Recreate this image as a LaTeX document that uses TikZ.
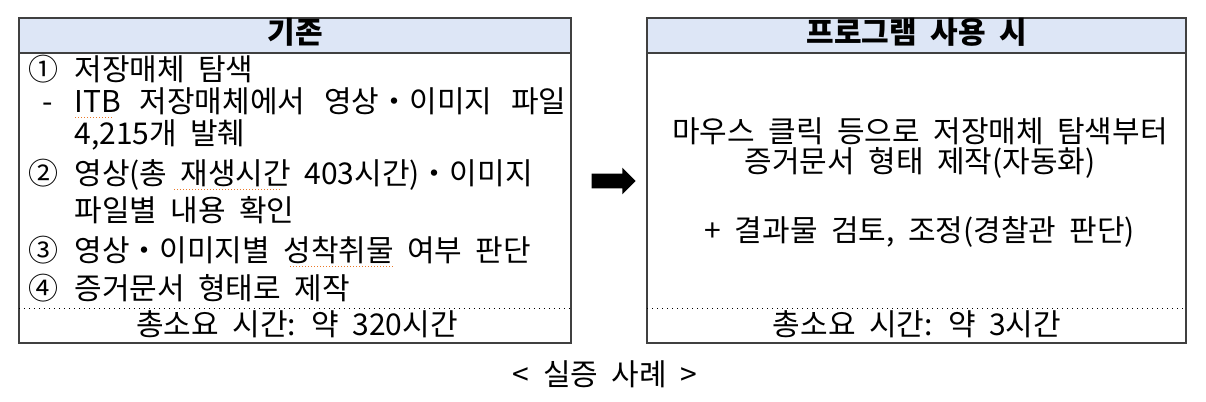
\documentclass[tikz,border=0pt]{standalone}
\usepackage{fontspec}
\setmainfont{Noto Sans CJK KR}[WordSpace=2]
\usetikzlibrary{shapes.arrows}

\definecolor{headblue}{RGB}{221,230,246}
\definecolor{framegray}{RGB}{64,64,64}
\definecolor{spellmark}{RGB}{235,120,40}

\begin{document}
\begin{tikzpicture}[x=0.5pt, y=-0.5pt,
    every node/.style={inner sep=0pt, text height=12pt, text depth=3pt,
        font=\fontsize{15}{17}\selectfont},
    frame/.style={draw=framegray, line width=0.6pt},
    headbar/.style={frame, fill=headblue},
    sepline/.style={draw=black, dotted, line width=0.5pt},
    squiggle/.style={draw=spellmark, densely dotted, line width=0.5pt},
    headtext/.style={font=\fontsize{15}{17}\selectfont\bfseries},
    itemtext/.style={anchor=west}]
    \useasboundingbox (0,0) rectangle (1206,402);

    % before
    \draw[headbar] (19,18) rectangle (571,53);
    \draw[frame] (19,53) rectangle (571,343);
    \draw[sepline] (19,308) -- (571,308);
    \node[headtext] (oldtitle) at (295,34) {기존};
    \node[itemtext] (n1) at (28,71) {①};
    \node[itemtext] (s1) at (74,71) {저장매체 탐색};
    \node[itemtext] (d1) at (42,103) {-};
    \node[itemtext] (s1a) at (74,103) {\makebox[246pt][s]{ITB 저장매체에서 영상・이미지 파일}};
    \node[itemtext] (s1b) at (74,135) {4,215개 발췌};
    \node[itemtext] (n2) at (28,175) {②};
    \node[itemtext] (s2) at (74,175) {영상(총 재생시간 403시간)・이미지};
    \node[itemtext] (s2b) at (74,212) {파일별 내용 확인};
    \node[itemtext] (n3) at (28,252) {③};
    \node[itemtext] (s3) at (74,252) {영상・이미지별 성착취물 여부 판단};
    \node[itemtext] (n4) at (28,290) {④};
    \node[itemtext] (s4) at (74,290) {증거문서 형태로 제작};
    \node (oldtime) at (297,326) {총소요 시간: 약 320시간};
    % spell-check marks
    \draw[squiggle] (75,117) -- (113,117);
    \draw[squiggle] (174,189) -- (280,189);
    \draw[squiggle] (290,266) -- (395,266);

    % arrow
    \node[single arrow, fill=black, minimum height=22pt, minimum width=13pt,
        single arrow head extend=3pt, inner sep=0pt, text height=7pt, text depth=0pt]
        (go) at (610,181) {};

    % after
    \draw[headbar] (647,18) rectangle (1186,53);
    \draw[frame] (647,53) rectangle (1186,343);
    \draw[sepline] (647,308) -- (1186,308);
    \node[headtext] (newtitle) at (917,34) {프로그램 사용 시};
    \node (auto1) at (920,133) {마우스 클릭 등으로 저장매체 탐색부터};
    \node (auto2) at (920,163) {증거문서 형태 제작(자동화)};
    \node (review) at (920,232) {+ 결과물 검토, 조정(경찰관 판단)};
    \node (newtime) at (917,326) {총소요 시간: 약 3시간};

    % caption
    \node (caption) at (605,376) {< 실증 사례 >};
\end{tikzpicture}
\end{document}
